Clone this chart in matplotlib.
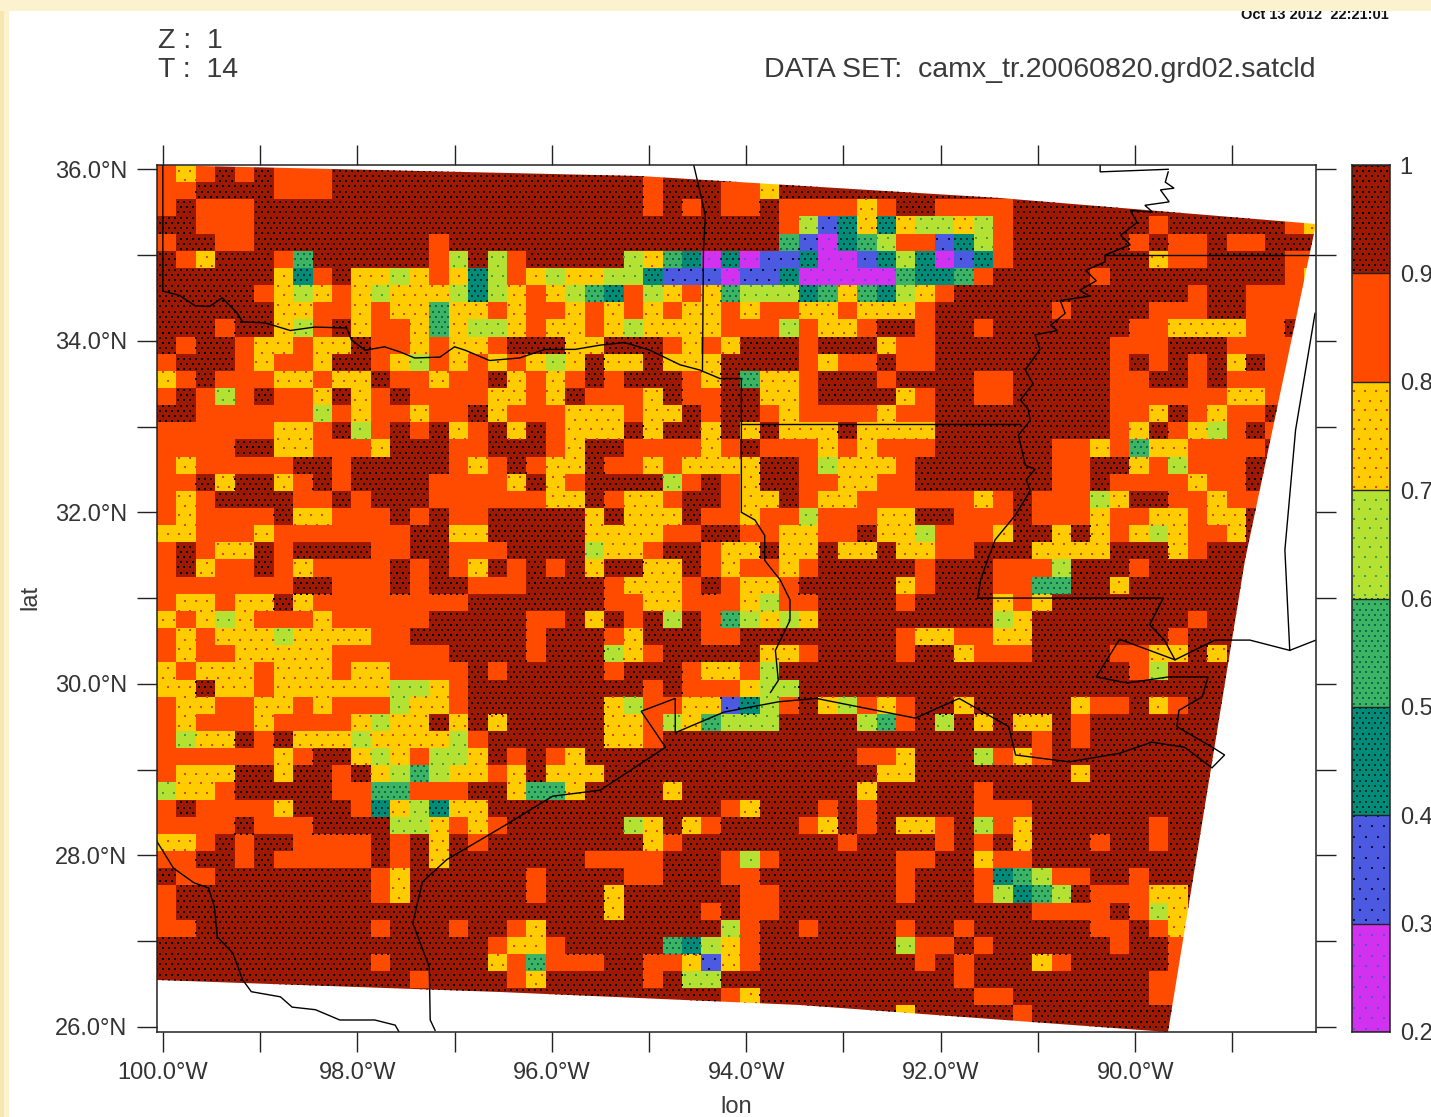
import numpy as np
import matplotlib
matplotlib.use('Agg')
import matplotlib.pyplot as plt
from matplotlib.colors import ListedColormap, BoundaryNorm
from matplotlib.patches import Polygon, Rectangle

W, H = 1431, 1117
plt.rcParams['font.family'] = ['Liberation Sans', 'DejaVu Sans']

levels = [0.2, 0.3, 0.4, 0.5, 0.6, 0.7, 0.8, 0.9, 1.0]
level_labels = ['0.2', '0.3', '0.4', '0.5', '0.6', '0.7', '0.8', '0.9', '1']
colors = ['#d232f0', '#4b5ae1', '#008c78', '#3cb464', '#b4e132', '#ffcc00', '#ff4b00', '#a01800']

# one digit per 0.2 degree cell: 9 is 0.9-1, 8 is 0.8-0.9 ... 2 is 0.2-0.3, top row first
grid_rows = [
    "8789898889 9999999999 9999989999 9999999999 9999999999 9999999999",
    "8899998889 9999999999 9999989998 8799999999 9999999999 9999999999",
    "8988899999 9999999999 9999989898 8988887899 8888999999 9999999999",
    "9988899999 9999999999 9999999999 9986347476 6768999999 9899999987",
    "8998899999 9999899999 9999999999 9953245688 3468999999 8988988999",
    "9879998599 9999869689 9999675424 2334223464 2348999999 9788999988",
    "9999997489 7767874687 6776643332 3342222254 4589999989 9999999987",
    "9999987678 7677764678 7654867875 6664575467 8999999999 9998998887",
    "9999997788 7877577878 8787878778 7887787778 9999998999 9888998888",
    "9998997689 7887576678 7787677778 8868778998 9989999999 8877778898",
    "9899877877 9887877899 9779998787 9998999788 9999999998 8899988888",
    "8999878879 9876878787 6797797779 9998788988 9999999998 9898979888",
    "7898887787 7988788978 7898999879 5778999899 9988999998 8998988889",
    "8986898879 7898888778 7988879889 9778999978 9988999998 8888877899",
    "9988888868 7887889788 8777877989 9878888788 9999999998 8798788988",
    "8888887789 6898978979 8777979979 7977797777 9999999998 7987689899",
    "8888997788 8799988999 8799888878 9888787888 9999998878 5778888999",
    "8788888998 9999987898 7798878777 7998677789 9999998899 7868889999",
    "8897997898 9999888879 7899996898 7998877889 9999998898 8887889999",
    "8789999889 8999888888 7798778998 7798778888 8878988867 9988788999",
    "8788889778 8898988999 9979777988 7886888779 9888988878 8778779999",
    "7788878888 8889977999 9977778899 8877889776 8887997978 7678879999",
    "8987798999 9889988899 9967789987 7977977977 8899977779 9978999999",
    "8978898788 8898987989 8979977987 8878999998 9998886999 8999999999",
    "8888888998 8898998889 9998777898 7789999978 9998855997 9999999999",
    "8778779788 8888889999 9998877888 7688999989 9997879999 9999999999",
    "7876788878 8888999998 8979896985 6767999999 9996799999 9998999999",
    "8787776777 7889999998 9998799988 9999999987 7887799999 9989999999",
    "8788777778 8888899998 9996789999 9778999989 9788899998 8779799999",
    "7877787778 7788889899 9998999877 8699999999 9999999999 8699999999",
    "7797787777 7766789999 9999989888 7669999999 9999999999 9999999999",
    "8778877878 8867789999 9997688773 4689768789 9799999788 9789999999",
    "8788878888 7677979799 9997786756 6699996589 6979779899 9999999999",
    "8677989777 6777768999 9997789999 9999999999 9999989899 9999999999",
    "8888887899 7678667989 8799999999 9999998879 9968789999 9999999999",
    "8777997998 9765677879 7779999999 9999999779 9999999799 9999999999",
    "6778999998 8558889975 5799997999 9999997999 9989999999 9999999999",
    "8988887999 8476477999 9999999998 7999898999 9988899999 9999999999",
    "8888988899 9966787899 9999679789 9998798977 8968799999 9899999999",
    "7789899888 8989798999 9999978999 9999989999 8989799989 9899999999",
    "8899898888 8989799999 9988889998 6899999988 9978899999 9999999999",
    "9889999999 9879999998 9999889998 8999999989 9984568899 8999999999",
    "8999999999 9879999998 9997999999 8899999989 9986456988 8779999999",
    "8999999999 9999999999 9997999989 8899999999 9999988889 8679999999",
    "8899999999 9899989987 9999999996 8998999989 9899999988 9878999999",
    "9999999999 9999999877 8999995467 8999999968 8989999998 9987999999",
    "9999999999 9899999785 8889988737 8999999998 9899978999 9989999999",
    "9999999999 9998999987 9999989669 9999999999 9899999999 9889999999",
    "9999999999 9999999999 9999999998 7999999999 9988999999 9889999999",
    "9999999999 9999999999 9999999999 9999999979 9999899999 9999999999",
    "9999999999 9999999999 9999999999 9999999999 9999999999 9999999999",
]

# outline of the model domain
edge_lon = [-100.06, -95.09, -91.39, -88.14, -88.87, -89.66, -93.45, -96.53, -100.06]
edge_lat = [36.05, 35.92, 35.67, 35.36, 31.44, 25.94, 26.26, 26.41, 26.55]

# map outlines
red_river_lon = [-100.0, -100.0, -99.83, -99.67, -99.52, -99.39, -99.24, -99.18, -98.95, -98.69, -98.44, -98.11, -98.06, -97.92, -97.72, -97.56, -97.41, -97.15, -97.0, -96.89, -96.64, -96.33, -96.07, -95.76, -95.5, -95.25, -94.99, -94.68, -94.48, -94.27, -94.05]
red_river_lat = [36.05, 34.58, 34.53, 34.41, 34.4, 34.5, 34.33, 34.22, 34.21, 34.12, 34.16, 34.15, 34.01, 33.89, 33.93, 33.87, 33.8, 33.81, 33.93, 33.89, 33.77, 33.8, 33.9, 33.9, 33.95, 33.98, 33.89, 33.72, 33.66, 33.56, 33.56]
ok_ar_lon = [-94.54, -94.48, -94.42, -94.44, -94.45]
ok_ar_lat = [36.05, 35.76, 35.46, 35.06, 33.66]
sabine_lon = [-94.05, -94.05, -93.91, -93.81, -93.81, -93.65, -93.55, -93.55, -93.7, -93.67, -93.75]
sabine_lat = [33.56, 32.0, 31.91, 31.73, 31.44, 31.21, 30.98, 30.74, 30.39, 30.04, 29.9]
ar_la_lon = [-94.05, -91.18]
ar_la_lat = [33.03, 33.03]
river_lon = [-89.66, -89.69, -89.6, -89.74, -89.65, -89.9, -89.82, -90.05, -89.98, -90.15, -90.05, -90.31, -90.31, -90.51, -90.4, -90.57, -90.47, -90.77, -90.72, -90.87, -90.8, -91.03, -90.98, -91.13, -91.05, -91.18, -91.1, -91.08, -91.2, -91.13, -91.03, -91.12, -91.08, -91.23, -91.44, -91.5, -91.59, -91.62]
river_lat = [35.97, 35.85, 35.78, 35.76, 35.62, 35.58, 35.5, 35.52, 35.38, 35.23, 35.12, 35.0, 34.92, 34.82, 34.7, 34.59, 34.52, 34.47, 34.32, 34.18, 34.12, 34.07, 33.9, 33.66, 33.5, 33.31, 33.2, 33.07, 32.9, 32.55, 32.5, 32.38, 32.25, 31.97, 31.68, 31.5, 31.21, 31.0]
bootheel_lon = [-90.36, -90.36, -89.66]
bootheel_lat = [36.05, 35.97, 36.0]
tn_lon = [-90.31, -88.14]
tn_lat = [35.0, 35.0]
la_ms_lon = [-91.62, -89.71, -89.85, -89.7, -89.59]
la_ms_lat = [31.0, 31.0, 30.69, 30.51, 30.28]
coast_lon = [-88.14, -88.41, -88.82, -89.18, -89.59, -90.16, -90.4, -90.08, -89.66, -89.25, -89.31, -89.55, -89.57, -89.19, -89.08, -89.21, -89.49, -89.83, -90.16, -90.68, -91.23, -91.3, -91.81, -92.26, -93.28, -93.67, -94.23, -94.73, -94.73, -95.08, -94.83, -95.5, -95.99, -96.51, -97.08, -97.33, -97.43, -97.26, -97.25, -97.2]
coast_lat = [30.51, 30.39, 30.51, 30.51, 30.28, 30.52, 30.08, 30.01, 30.08, 30.08, 29.85, 29.69, 29.5, 29.25, 29.17, 29.02, 29.26, 29.32, 29.19, 29.09, 29.17, 29.5, 29.83, 29.6, 29.83, 29.79, 29.67, 29.43, 29.83, 29.68, 29.26, 28.76, 28.69, 28.33, 27.95, 27.69, 27.21, 26.7, 26.08, 25.96]
rio_lon = [-100.06, -99.89, -99.68, -99.53, -99.47, -99.44, -99.28, -99.18, -99.09, -98.79, -98.67, -98.43, -98.18, -97.82, -97.61, -97.57]
rio_lat = [28.16, 27.85, 27.68, 27.62, 27.4, 27.05, 26.86, 26.55, 26.41, 26.35, 26.23, 26.2, 26.08, 26.08, 26.02, 25.94]
al_lon = [-88.15, -88.35, -88.46, -88.41]
al_lat = [34.32, 32.96, 31.56, 30.39]
outlines = [(red_river_lon, red_river_lat), (ok_ar_lon, ok_ar_lat), (sabine_lon, sabine_lat), (ar_la_lon, ar_la_lat),
            (river_lon, river_lat), (bootheel_lon, bootheel_lat), (tn_lon, tn_lat), (la_ms_lon, la_ms_lat),
            (coast_lon, coast_lat), (rio_lon, rio_lat), (al_lon, al_lat)]

# stipple spacing in px and colour per class
dots = {9: (6, '#000000'), 7: (11, '#e8401c'), 6: (11, '#3fa34d'), 5: (6, '#0a6b50'),
        4: (6, '#00302a'), 3: (12, '#101040'), 2: (12, '#5a50d8')}

x0, x1 = -100.06, -88.14
y0, y1 = 25.94, 36.05
grid = np.array([[int(c) for c in r.replace(' ', '')] for r in grid_rows]) + 0.5
grid = grid / 10.0
lon_e = x0 + 0.2 * np.arange(grid.shape[1] + 1)
lat_e = y1 - 0.2 * np.arange(grid.shape[0] + 1)

cmap = ListedColormap(colors)
norm = BoundaryNorm(levels, cmap.N)

fig = plt.figure(figsize=(W / 100, H / 100), dpi=100, facecolor='#fcf2d0')
fig.add_artist(Rectangle((9 / W, 0), 1, 1 - 11 / H, transform=fig.transFigure, fc='white', ec='none', zorder=0))
fig.add_artist(Rectangle((0, 0), 4 / W, 1, transform=fig.transFigure, fc='#f6e6b0', ec='none', zorder=0))


def axes_at(left, top, right, bottom):
    return fig.add_axes([left / W, 1 - bottom / H, (right - left) / W, (bottom - top) / H])


ax = axes_at(157, 165, 1316, 1032)
ax.set_zorder(2)
ax.set_facecolor('none')
mesh = ax.pcolormesh(lon_e, lat_e, grid, cmap=cmap, norm=norm, antialiased=False, linewidth=0)
domain = Polygon(np.column_stack([edge_lon, edge_lat]), closed=True, transform=ax.transData, fc='none', ec='none')
ax.add_patch(domain)
mesh.set_clip_path(domain)

# stipple on top of the cells
px_x = (x1 - x0) / 1159.0
px_y = (y1 - y0) / 867.0
for cls, (step, col) in dots.items():
    xs = np.arange(x0, x1, step * px_x)
    ys = np.arange(y0, y1, step * px_y * 0.87)
    X, Y = np.meshgrid(xs, ys)
    X = X + (np.arange(len(ys)) % 2)[:, None] * step * px_x / 2
    i = np.clip(((X - x0) / 0.2).astype(int), 0, grid.shape[1] - 1)
    j = np.clip(((y1 - Y) / 0.2).astype(int), 0, grid.shape[0] - 1)
    m = np.floor(grid[j, i] * 10 + 1e-6).astype(int) == cls
    sc = ax.scatter(X[m], Y[m], s=1.6, c=col, marker='s', linewidths=0)
    sc.set_clip_path(domain)

for lo, la in outlines:
    ax.plot(lo, la, color='black', lw=1.0, solid_joinstyle='miter')

lon_ticks = np.arange(-100, -88)
lat_ticks = np.arange(26, 37)
ax.set_xticks(lon_ticks)
ax.set_yticks(lat_ticks)
ax.set_xticklabels(['%.1f°W' % abs(v) if v % 2 == 0 else '' for v in lon_ticks])
ax.set_yticklabels(['%.1f°N' % v if v % 2 == 0 else '' for v in lat_ticks])
ax.set_xlim(x0, x1)
ax.set_ylim(y0, y1)
ax.tick_params(axis='both', which='major', length=14.4, width=1.0, color='#222222', labelsize=17,
               labelcolor='#333333', direction='out', top=True, right=True)
ax.tick_params(axis='x', pad=7.5)
ax.tick_params(axis='y', pad=7)
for s in ax.spines.values():
    s.set_linewidth(1.1)
    s.set_color('#222222')
    s.set_zorder(5)

# colour bar
cax = axes_at(1352, 165, 1390, 1032)
cax.set_zorder(2)
cax.pcolormesh([0, 1], levels, np.array(levels[:-1])[:, None] + 0.05, cmap=cmap, norm=norm, antialiased=False)
for k in range(len(colors)):
    cls = k + 2
    if cls not in dots:
        continue
    step, col = dots[cls]
    xs = np.arange(0.04, 1, step / 38.0)
    ys = np.arange(levels[k] + 0.003, levels[k + 1], step * 0.87 * 0.8 / 867)
    X, Y = np.meshgrid(xs, ys)
    X = X + (np.arange(len(ys)) % 2)[:, None] * step / 76.0
    keep = X < 0.98
    cax.scatter(X[keep], Y[keep], s=1.6, c=col, marker='s', linewidths=0)
cax.hlines(levels, 0, 1, color='#222222', lw=1.0)
cax.set_xlim(0, 1)
cax.set_ylim(0.2, 1.0)
cax.set_xticks([])
cax.yaxis.tick_right()
cax.set_yticks(levels)
cax.set_yticklabels(level_labels)
cax.tick_params(axis='y', length=0, pad=7, labelsize=17, labelcolor='#333333')
for s in cax.spines.values():
    s.set_linewidth(1.1)
    s.set_color('#222222')


def label(x, y, s, **kw):
    kw.setdefault('fontsize', 20.5)
    kw.setdefault('color', '#3a3a3a')
    kw.setdefault('va', 'center')
    fig.text(x / W, 1 - y / H, s, zorder=3, **kw)


label(158, 41, 'Z :  1')
label(158, 70, 'T :  14')
label(1315, 70, 'DATA SET:  camx_tr.20060820.grd02.satcld', ha='right')
label(736, 1107, 'lon', ha='center', fontsize=17)
label(30, 597, 'lat', ha='center', rotation=90, fontsize=17)
label(1315, 15, 'Oct 13 2012  22:21:01', ha='center', fontsize=10.5, fontweight='bold', color='#111111')
# top band of the page cuts through the date stamp
fig.add_artist(Rectangle((0, 1 - 11 / H), 1, 11 / H, transform=fig.transFigure, fc='#fcf2d0', ec='none', zorder=4))

fig.savefig('out.png', dpi=100, facecolor=fig.get_facecolor())
